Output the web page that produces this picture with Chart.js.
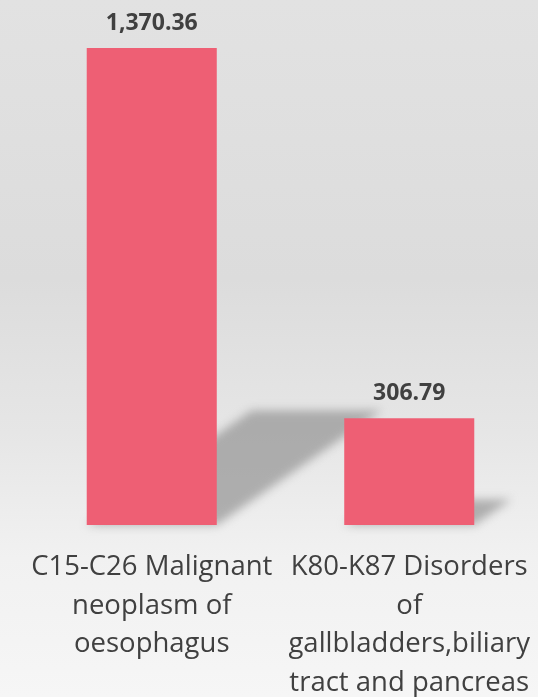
<!DOCTYPE html>
<html>
<head>
<meta charset="utf-8">
<script src="https://cdn.jsdelivr.net/npm/chart.js@4"></script>
<style>
   html, body { margin: 0; padding: 0; }
   body {
      width: 538px;
      height: 697px;
      background: linear-gradient(to bottom, #e2e2e2 0%, #dcdcdc 40%, #e6e6e6 62%, #f1f1f1 80%, #f6f6f6 100%);
   }
   #wrap { width: 538px; height: 697px; position: relative; }
</style>
</head>
<body>
<div id="wrap"><canvas id="chart"></canvas></div>
<script>
const categories = [
   ["C15-C26 Malignant", "neoplasm of", "oesophagus"],
   ["K80-K87 Disorders", "of", "gallbladders,biliary", "tract and pancreas"],
];
const values = [1370.36, 306.79];
const valueLabels = ["1,370.36", "306.79"];

// schräger Schatten hinter den Balken
const barShadow = {
   id: "barShadow",
   beforeDatasetsDraw(chart) {
      const ctx = chart.ctx;
      const bars = chart.getDatasetMeta(0).data;
      ctx.save();
      ctx.filter = "blur(5px)";
      ctx.fillStyle = "rgba(140, 140, 140, 0.65)";
      bars.forEach((bar) => {
         const h = bar.base - bar.y;
         const left = bar.x - bar.width / 2;
         const right = bar.x + bar.width / 2;
         const dx = h * 0.346;
         const dy = h * 0.24;
         ctx.beginPath();
         ctx.moveTo(left, bar.base);
         ctx.lineTo(right, bar.base);
         ctx.lineTo(right + dx, bar.base - dy);
         ctx.lineTo(left + dx, bar.base - dy);
         ctx.closePath();
         ctx.fill();
      });
      ctx.restore();
   },
};

// Werte über den Balken
const valueText = {
   id: "valueText",
   afterDatasetsDraw(chart) {
      const ctx = chart.ctx;
      const bars = chart.getDatasetMeta(0).data;
      ctx.save();
      ctx.font = "bold 23px 'Open Sans'";
      ctx.fillStyle = "#404040";
      ctx.textAlign = "center";
      ctx.textBaseline = "alphabetic";
      bars.forEach((bar, i) => {
         ctx.fillText(valueLabels[i], bar.x, bar.y - 18);
      });
      ctx.restore();
   },
};

new Chart(document.getElementById("chart"), {
   type: "bar",
   data: {
      labels: categories,
      datasets: [
         {
            data: values,
            backgroundColor: "#EE5F74",
            borderWidth: 0,
            barPercentage: 1,
            categoryPercentage: 0.505,
         },
      ],
   },
   options: {
      responsive: true,
      maintainAspectRatio: false,
      animation: false,
      layout: {
         padding: { left: 23, right: 0, top: 3, bottom: 0 },
      },
      scales: {
         x: {
            grid: { display: false, drawTicks: false },
            border: { display: false },
            ticks: {
               color: "#404040",
               font: { family: "'Open Sans'", size: 27.5, lineHeight: 1.4 },
               maxRotation: 0,
               minRotation: 0,
               autoSkip: false,
               padding: 23,
            },
            afterFit(scale) {
               // feste Höhe, keine Randabstände durch lange Beschriftungen
               scale.height = 172;
               scale.paddingLeft = 0;
               scale.paddingRight = 0;
            },
         },
         y: {
            display: false,
            min: 0,
            max: 1500,
         },
      },
      plugins: {
         legend: { display: false },
         tooltip: { enabled: false },
      },
   },
   plugins: [barShadow, valueText],
});
</script>
</body>
</html>
